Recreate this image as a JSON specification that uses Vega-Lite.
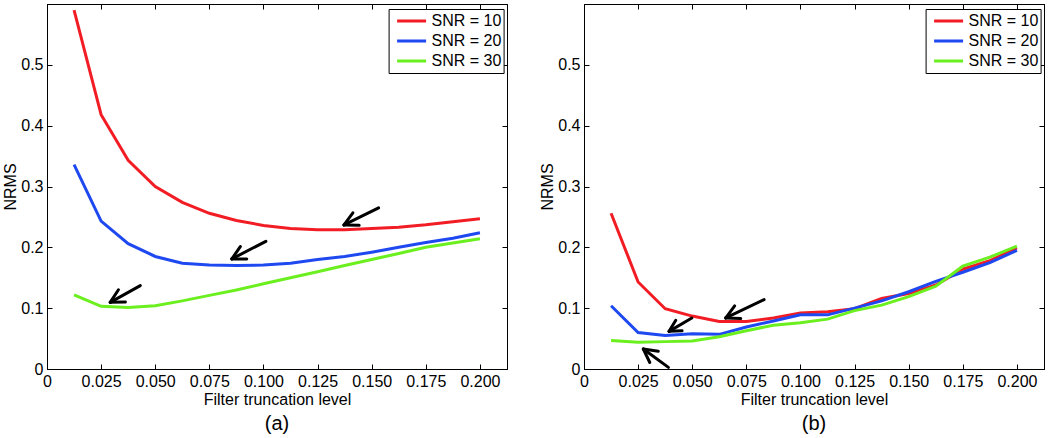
{
  "$schema": "https://vega.github.io/schema/vega-lite/v6.json",
  "padding": {"left": 2, "top": 3, "right": 2, "bottom": 0},
  "background": "white",
  "config": {
    "font": "Liberation Sans",
    "view": {"stroke": "black", "strokeWidth": 1},
    "axis": {
      "labelFont": "Liberation Sans", "labelFontSize": 16, "labelColor": "black",
      "titleFont": "Liberation Sans", "titleFontSize": 16, "titleFontWeight": "normal", "titleColor": "black",
      "domainColor": "black", "domainWidth": 1, "tickColor": "black", "tickWidth": 1, "tickSize": -5,
      "grid": false, "labelFlush": false, "labelOverlap": false, "labelPadding": 9, "titlePadding": 2
    },
    "title": {"font": "Liberation Sans", "fontSize": 20, "fontWeight": "normal", "color": "black", "offset": 7},
    "legend": {
      "orient": "none", "legendX": 341.6, "legendY": 5, "title": null,
      "symbolType": "stroke", "symbolSize": 841, "symbolStrokeWidth": 3, "clipHeight": 20,
      "labelFont": "Liberation Sans", "labelFontSize": 16, "labelColor": "black", "labelOffset": 4,
      "symbolOffset": 5, "rowPadding": 0, "padding": 2, "strokeColor": "black", "fillColor": "white"
    }
  },
  "datasets": {
    "curves": [
      {"p":"a","snr":"SNR = 10","level":0.0125,"nrms":0.590},{"p":"a","snr":"SNR = 10","level":0.025,"nrms":0.418},{"p":"a","snr":"SNR = 10","level":0.0375,"nrms":0.343},{"p":"a","snr":"SNR = 10","level":0.05,"nrms":0.300},{"p":"a","snr":"SNR = 10","level":0.0625,"nrms":0.274},{"p":"a","snr":"SNR = 10","level":0.075,"nrms":0.256},{"p":"a","snr":"SNR = 10","level":0.0875,"nrms":0.244},{"p":"a","snr":"SNR = 10","level":0.1,"nrms":0.236},{"p":"a","snr":"SNR = 10","level":0.1125,"nrms":0.231},{"p":"a","snr":"SNR = 10","level":0.125,"nrms":0.229},{"p":"a","snr":"SNR = 10","level":0.1375,"nrms":0.229},{"p":"a","snr":"SNR = 10","level":0.15,"nrms":0.231},{"p":"a","snr":"SNR = 10","level":0.1625,"nrms":0.233},{"p":"a","snr":"SNR = 10","level":0.175,"nrms":0.237},{"p":"a","snr":"SNR = 10","level":0.1875,"nrms":0.242},{"p":"a","snr":"SNR = 10","level":0.2,"nrms":0.247},
      {"p":"a","snr":"SNR = 20","level":0.0125,"nrms":0.336},{"p":"a","snr":"SNR = 20","level":0.025,"nrms":0.243},{"p":"a","snr":"SNR = 20","level":0.0375,"nrms":0.206},{"p":"a","snr":"SNR = 20","level":0.05,"nrms":0.185},{"p":"a","snr":"SNR = 20","level":0.0625,"nrms":0.174},{"p":"a","snr":"SNR = 20","level":0.075,"nrms":0.171},{"p":"a","snr":"SNR = 20","level":0.0875,"nrms":0.170},{"p":"a","snr":"SNR = 20","level":0.1,"nrms":0.171},{"p":"a","snr":"SNR = 20","level":0.1125,"nrms":0.174},{"p":"a","snr":"SNR = 20","level":0.125,"nrms":0.180},{"p":"a","snr":"SNR = 20","level":0.1375,"nrms":0.185},{"p":"a","snr":"SNR = 20","level":0.15,"nrms":0.192},{"p":"a","snr":"SNR = 20","level":0.1625,"nrms":0.200},{"p":"a","snr":"SNR = 20","level":0.175,"nrms":0.208},{"p":"a","snr":"SNR = 20","level":0.1875,"nrms":0.215},{"p":"a","snr":"SNR = 20","level":0.2,"nrms":0.224},
      {"p":"a","snr":"SNR = 30","level":0.0125,"nrms":0.122},{"p":"a","snr":"SNR = 30","level":0.025,"nrms":0.103},{"p":"a","snr":"SNR = 30","level":0.0375,"nrms":0.101},{"p":"a","snr":"SNR = 30","level":0.05,"nrms":0.104},{"p":"a","snr":"SNR = 30","level":0.0625,"nrms":0.112},{"p":"a","snr":"SNR = 30","level":0.075,"nrms":0.121},{"p":"a","snr":"SNR = 30","level":0.0875,"nrms":0.130},{"p":"a","snr":"SNR = 30","level":0.1,"nrms":0.140},{"p":"a","snr":"SNR = 30","level":0.1125,"nrms":0.150},{"p":"a","snr":"SNR = 30","level":0.125,"nrms":0.160},{"p":"a","snr":"SNR = 30","level":0.1375,"nrms":0.170},{"p":"a","snr":"SNR = 30","level":0.15,"nrms":0.180},{"p":"a","snr":"SNR = 30","level":0.1625,"nrms":0.190},{"p":"a","snr":"SNR = 30","level":0.175,"nrms":0.200},{"p":"a","snr":"SNR = 30","level":0.1875,"nrms":0.207},{"p":"a","snr":"SNR = 30","level":0.2,"nrms":0.214},
      {"p":"b","snr":"SNR = 10","level":0.0125,"nrms":0.256},{"p":"b","snr":"SNR = 10","level":0.025,"nrms":0.143},{"p":"b","snr":"SNR = 10","level":0.0375,"nrms":0.099},{"p":"b","snr":"SNR = 10","level":0.05,"nrms":0.087},{"p":"b","snr":"SNR = 10","level":0.0625,"nrms":0.078},{"p":"b","snr":"SNR = 10","level":0.075,"nrms":0.078},{"p":"b","snr":"SNR = 10","level":0.0875,"nrms":0.084},{"p":"b","snr":"SNR = 10","level":0.1,"nrms":0.092},{"p":"b","snr":"SNR = 10","level":0.1125,"nrms":0.094},{"p":"b","snr":"SNR = 10","level":0.125,"nrms":0.099},{"p":"b","snr":"SNR = 10","level":0.1375,"nrms":0.116},{"p":"b","snr":"SNR = 10","level":0.15,"nrms":0.124},{"p":"b","snr":"SNR = 10","level":0.1625,"nrms":0.138},{"p":"b","snr":"SNR = 10","level":0.175,"nrms":0.164},{"p":"b","snr":"SNR = 10","level":0.1875,"nrms":0.178},{"p":"b","snr":"SNR = 10","level":0.2,"nrms":0.199},
      {"p":"b","snr":"SNR = 20","level":0.0125,"nrms":0.104},{"p":"b","snr":"SNR = 20","level":0.025,"nrms":0.060},{"p":"b","snr":"SNR = 20","level":0.0375,"nrms":0.055},{"p":"b","snr":"SNR = 20","level":0.05,"nrms":0.058},{"p":"b","snr":"SNR = 20","level":0.0625,"nrms":0.057},{"p":"b","snr":"SNR = 20","level":0.075,"nrms":0.069},{"p":"b","snr":"SNR = 20","level":0.0875,"nrms":0.079},{"p":"b","snr":"SNR = 20","level":0.1,"nrms":0.089},{"p":"b","snr":"SNR = 20","level":0.1125,"nrms":0.089},{"p":"b","snr":"SNR = 20","level":0.125,"nrms":0.100},{"p":"b","snr":"SNR = 20","level":0.1375,"nrms":0.112},{"p":"b","snr":"SNR = 20","level":0.15,"nrms":0.127},{"p":"b","snr":"SNR = 20","level":0.1625,"nrms":0.144},{"p":"b","snr":"SNR = 20","level":0.175,"nrms":0.159},{"p":"b","snr":"SNR = 20","level":0.1875,"nrms":0.175},{"p":"b","snr":"SNR = 20","level":0.2,"nrms":0.195},
      {"p":"b","snr":"SNR = 30","level":0.0125,"nrms":0.047},{"p":"b","snr":"SNR = 30","level":0.025,"nrms":0.044},{"p":"b","snr":"SNR = 30","level":0.0375,"nrms":0.045},{"p":"b","snr":"SNR = 30","level":0.05,"nrms":0.046},{"p":"b","snr":"SNR = 30","level":0.0625,"nrms":0.053},{"p":"b","snr":"SNR = 30","level":0.075,"nrms":0.063},{"p":"b","snr":"SNR = 30","level":0.0875,"nrms":0.072},{"p":"b","snr":"SNR = 30","level":0.1,"nrms":0.076},{"p":"b","snr":"SNR = 30","level":0.1125,"nrms":0.082},{"p":"b","snr":"SNR = 30","level":0.125,"nrms":0.096},{"p":"b","snr":"SNR = 30","level":0.1375,"nrms":0.105},{"p":"b","snr":"SNR = 30","level":0.15,"nrms":0.119},{"p":"b","snr":"SNR = 30","level":0.1625,"nrms":0.136},{"p":"b","snr":"SNR = 30","level":0.175,"nrms":0.169},{"p":"b","snr":"SNR = 30","level":0.1875,"nrms":0.184},{"p":"b","snr":"SNR = 30","level":0.2,"nrms":0.202}
    ],
    "arrows": [
      {"p":"a","x":0.1372,"y":0.2368,"x2":0.1532,"y2":0.2648},
      {"p":"a","x":0.1372,"y":0.2368,"x2":0.1442,"y2":0.2361},
      {"p":"a","x":0.1372,"y":0.2368,"x2":0.1413,"y2":0.2568},
      {"p":"a","x":0.0854,"y":0.1810,"x2":0.1011,"y2":0.2099},
      {"p":"a","x":0.0854,"y":0.1810,"x2":0.0923,"y2":0.1807},
      {"p":"a","x":0.0854,"y":0.1810,"x2":0.0893,"y2":0.2012},
      {"p":"a","x":0.0292,"y":0.1096,"x2":0.0431,"y2":0.1371},
      {"p":"a","x":0.0292,"y":0.1096,"x2":0.0362,"y2":0.1101},
      {"p":"a","x":0.0292,"y":0.1096,"x2":0.0330,"y2":0.1303},
      {"p":"b","x":0.0655,"y":0.0839,"x2":0.0832,"y2":0.1140},
      {"p":"b","x":0.0655,"y":0.0839,"x2":0.0724,"y2":0.0829},
      {"p":"b","x":0.0655,"y":0.0839,"x2":0.0696,"y2":0.1038},
      {"p":"b","x":0.0393,"y":0.0619,"x2":0.0498,"y2":0.0839},
      {"p":"b","x":0.0393,"y":0.0619,"x2":0.0453,"y2":0.0629},
      {"p":"b","x":0.0393,"y":0.0619,"x2":0.0424,"y2":0.0801},
      {"p":"b","x":0.0274,"y":0.0329,"x2":0.0390,"y2":0.0027},
      {"p":"b","x":0.0274,"y":0.0329,"x2":0.0304,"y2":0.0107},
      {"p":"b","x":0.0274,"y":0.0329,"x2":0.0343,"y2":0.0293}
    ]
  },
  "bounds": "flush",
  "spacing": 77,
  "resolve": {"scale": {"color": "independent"}, "legend": {"color": "independent"}},
  "hconcat": [
    {
      "width": 460, "height": 365,
      "title": {"text": "(a)", "orient": "bottom"},
      "resolve": {"axis": {"x": "independent", "y": "independent"}},
      "layer": [
        {
          "data": {"name": "curves"},
          "transform": [{"filter": "datum.p == 'a'"}],
          "mark": {"type": "line", "strokeWidth": 3},
          "encoding": {
            "x": {"field": "level", "type": "quantitative", "scale": {"domain": [0, 0.2125], "nice": false, "zero": false},
              "axis": {"title": "Filter truncation level", "values": [0,0.025,0.05,0.075,0.1,0.125,0.15,0.175,0.2], "labelExpr": "datum.value == 0 ? '0' : format(datum.value, '.3f')"}},
            "y": {"field": "nrms", "type": "quantitative", "scale": {"domain": [0, 0.6], "nice": false},
              "axis": {"title": "NRMS", "values": [0,0.1,0.2,0.3,0.4,0.5], "labelExpr": "datum.value == 0 ? '0' : format(datum.value, '.1f')"}},
            "color": {"field": "snr", "type": "nominal", "scale": {"domain": ["SNR = 10","SNR = 20","SNR = 30"], "range": ["#f21d24","#1f49f0","#6bef1f"]}}
          }
        },
        {
          "data": {"name": "arrows"},
          "transform": [{"filter": "datum.p == 'a'"}],
          "mark": {"type": "rule", "strokeWidth": 3, "color": "black", "strokeCap": "round"},
          "encoding": {
            "x": {"field": "x", "type": "quantitative", "scale": {"domain": [0, 0.2125], "nice": false, "zero": false},
              "axis": {"orient": "top", "title": null, "labels": false, "values": [0,0.025,0.05,0.075,0.1,0.125,0.15,0.175,0.2]}},
            "y": {"field": "y", "type": "quantitative", "scale": {"domain": [0, 0.6], "nice": false},
              "axis": {"orient": "right", "title": null, "labels": false, "values": [0,0.1,0.2,0.3,0.4,0.5]}},
            "x2": {"field": "x2"},
            "y2": {"field": "y2"}
          }
        }
      ]
    },
    {
      "width": 460, "height": 365,
      "title": {"text": "(b)", "orient": "bottom"},
      "resolve": {"axis": {"x": "independent", "y": "independent"}},
      "layer": [
        {
          "data": {"name": "curves"},
          "transform": [{"filter": "datum.p == 'b'"}],
          "mark": {"type": "line", "strokeWidth": 3},
          "encoding": {
            "x": {"field": "level", "type": "quantitative", "scale": {"domain": [0, 0.2125], "nice": false, "zero": false},
              "axis": {"title": "Filter truncation level", "values": [0,0.025,0.05,0.075,0.1,0.125,0.15,0.175,0.2], "labelExpr": "datum.value == 0 ? '0' : format(datum.value, '.3f')"}},
            "y": {"field": "nrms", "type": "quantitative", "scale": {"domain": [0, 0.6], "nice": false},
              "axis": {"title": "NRMS", "values": [0,0.1,0.2,0.3,0.4,0.5], "labelExpr": "datum.value == 0 ? '0' : format(datum.value, '.1f')"}},
            "color": {"field": "snr", "type": "nominal", "scale": {"domain": ["SNR = 10","SNR = 20","SNR = 30"], "range": ["#f21d24","#1f49f0","#6bef1f"]}}
          }
        },
        {
          "data": {"name": "arrows"},
          "transform": [{"filter": "datum.p == 'b'"}],
          "mark": {"type": "rule", "strokeWidth": 3, "color": "black", "strokeCap": "round"},
          "encoding": {
            "x": {"field": "x", "type": "quantitative", "scale": {"domain": [0, 0.2125], "nice": false, "zero": false},
              "axis": {"orient": "top", "title": null, "labels": false, "values": [0,0.025,0.05,0.075,0.1,0.125,0.15,0.175,0.2]}},
            "y": {"field": "y", "type": "quantitative", "scale": {"domain": [0, 0.6], "nice": false},
              "axis": {"orient": "right", "title": null, "labels": false, "values": [0,0.1,0.2,0.3,0.4,0.5]}},
            "x2": {"field": "x2"},
            "y2": {"field": "y2"}
          }
        }
      ]
    }
  ]
}
